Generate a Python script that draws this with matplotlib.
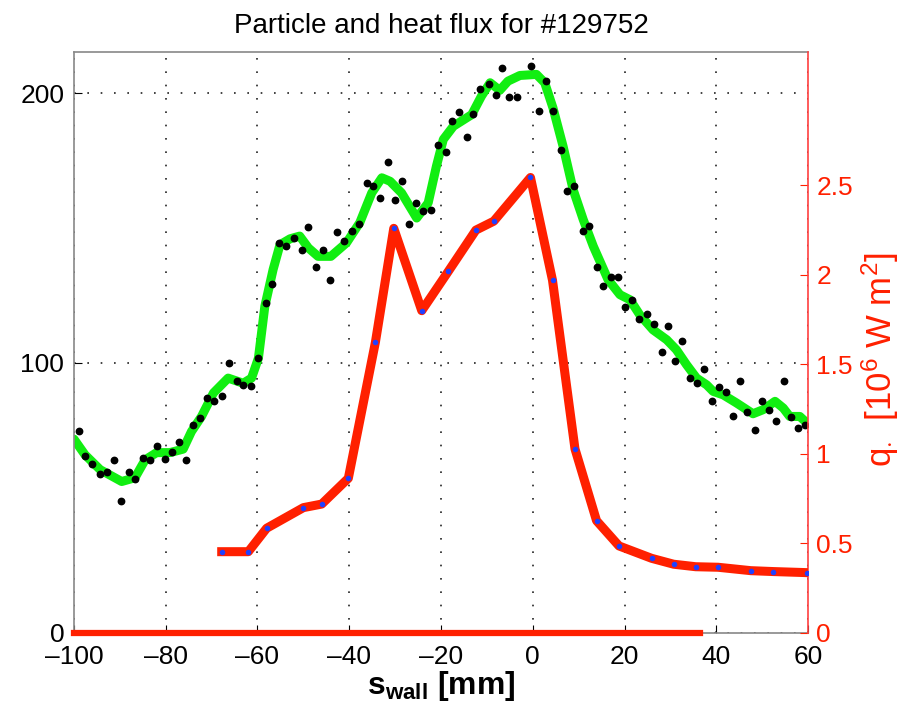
import matplotlib
matplotlib.use("Agg")
import matplotlib.pyplot as plt

plt.rcParams['font.family'] = ['Liberation Sans', 'DejaVu Sans']
plt.rcParams['mathtext.fontset'] = 'custom'
plt.rcParams['mathtext.rm'] = 'Liberation Sans'
plt.rcParams['mathtext.it'] = 'Liberation Sans'
plt.rcParams['mathtext.bf'] = 'Liberation Sans:bold'

# particle flux measurements (black dots, left axis)
dots_s = [-99.0, -97.6, -96.0, -94.3, -92.7, -91.3, -89.8, -88.0, -86.6, -84.9,
          -83.5, -81.8, -80.2, -78.7, -77.1, -75.6, -74.0, -72.5, -71.0, -69.5,
          -67.7, -66.2, -64.5, -63.1, -61.5, -59.8, -58.2, -56.8, -55.3, -53.7,
          -52.0, -50.4, -49.1, -47.3, -45.8, -44.2, -42.6, -41.1, -39.5, -37.8,
          -36.2, -34.8, -33.3, -31.5, -30.0, -28.6, -27.0, -25.5, -23.9, -22.2,
          -20.6, -19.0, -17.5, -16.0, -14.4, -13.0, -11.4, -9.6, -8.1, -6.7,
          -5.1, -3.4, -0.3, 1.3, 2.9, 4.4, 6.1, 7.5, 9.0, 10.9,
          12.2, 13.9, 15.3, 17.0, 18.5, 20.1, 21.7, 23.2, 24.8, 26.5,
          28.1, 29.5, 31.1, 32.6, 34.2, 35.8, 37.4, 39.0, 40.6, 42.2,
          43.7, 45.1, 46.8, 48.4, 50.0, 51.5, 53.1, 54.7, 56.2, 57.8, 59.4]
dots_flux = [74.9, 65.6, 62.7, 58.9, 59.8, 63.9, 48.7, 59.6, 57.1, 64.8,
             63.9, 69.4, 64.5, 67.2, 70.9, 63.9, 77.1, 79.6, 87.0, 86.0,
             87.6, 100.0, 93.2, 91.9, 91.6, 101.8, 122.4, 129.4, 144.5, 143.5,
             146.3, 142.0, 150.4, 135.5, 142.0, 130.6, 148.4, 145.3, 148.8, 151.5,
             166.5, 165.5, 161.1, 174.3, 160.5, 167.3, 151.5, 159.3, 156.2, 156.8,
             180.7, 178.1, 189.6, 192.9, 183.8, 192.4, 201.6, 203.5, 199.4, 209.1,
             198.4, 198.4, 209.9, 193.5, 204.4, 193.5, 178.8, 163.6, 165.5, 148.8,
             150.9, 135.6, 128.6, 131.9, 131.9, 120.6, 123.4, 116.3, 118.3, 114.4,
             104.1, 113.8, 100.9, 108.0, 94.4, 92.6, 97.9, 86.1, 91.1, 89.1,
             80.2, 93.4, 81.7, 75.3, 86.1, 82.7, 78.6, 93.5, 80.0, 75.9, 77.1]

# smoothed particle flux (green line, left axis)
smooth_s = [-100, -97.6, -94.3, -89.6, -86.7, -84.5, -82.0, -79.1, -76.2, -74.4,
            -72.2, -69.6, -66.4, -63.1, -61.3, -59.8, -58.4, -56.6, -55.1, -52.9,
            -50.8, -48.9, -46.8, -44.0, -40.6, -37.7, -35.1, -32.9, -31.1, -28.6,
            -25.3, -22.8, -21.0, -19.5, -17.3, -13.3, -11.2, -9.3, -7.2, -5.4,
            -2.8, 0.8, 2.6, 4.4, 6.6, 8.8, 11.0, 13.2, 16.4, 19.0,
            21.2, 23.3, 26.2, 29.2, 31.3, 33.5, 35.7, 37.9, 39.3, 41.5,
            44.4, 48.0, 50.2, 52.8, 54.6, 56.0, 58.2, 59.8]
smooth_flux = [71.8, 66.0, 60.5, 56.1, 57.5, 64.1, 66.8, 66.8, 68.1, 74.6,
               80.2, 88.9, 94.4, 92.5, 94.4, 101.8, 121.0, 134.6, 143.8, 146.0,
               147.0, 142.6, 139.5, 139.5, 144.5, 152.0, 163.0, 168.6, 167.3, 163.0,
               153.7, 159.3, 172.9, 182.8, 187.7, 192.0, 198.8, 203.8, 201.0, 204.4,
               206.5, 206.9, 203.8, 194.5, 180.3, 164.2, 153.1, 143.2, 130.9, 125.3,
               123.4, 117.9, 112.3, 108.6, 104.9, 99.4, 94.4, 91.9, 89.5, 88.2,
               85.2, 81.2, 82.7, 85.8, 83.3, 80.2, 80.2, 77.7]

# heat flux (red line with blue dots, right axis)
heat_s = [-67.8, -62.0, -58.0, -50.0, -46.0, -40.2, -34.3, -30.3, -24.2, -18.4,
          -12.4, -8.5, -0.5, 4.3, 9.2, 13.9, 18.8, 25.9, 30.7, 35.5,
          40.4, 47.5, 52.4, 59.7]
heat_q = [0.454, 0.454, 0.585, 0.70, 0.72, 0.864, 1.624, 2.26, 1.80, 2.02,
          2.25, 2.30, 2.544, 1.97, 1.028, 0.627, 0.486, 0.417, 0.384, 0.370,
          0.367, 0.348, 0.343, 0.337]

# zero heat-flux baseline
zero_s = [-100, 36.4]
zero_q = [0, 0]

x_ticks = [-100, -80, -60, -40, -20, 0, 20, 40, 60]
left_ticks = [0, 100, 200]
right_ticks = [0, 0.5, 1, 1.5, 2, 2.5]
right_ticklabels = ['0', '0.5', '1', '1.5', '2', '2.5']

fig = plt.figure(figsize=(9.11, 7.12), dpi=100)
ax = fig.add_axes([0.0812, 0.111, 0.8058, 0.816])
ax2 = ax.twinx()

ax.set_zorder(1)
ax2.set_zorder(2)
ax2.patch.set_visible(False)

ax.plot(smooth_s, smooth_flux, color='#11ee11', lw=6.5, solid_capstyle='round',
        solid_joinstyle='round', zorder=2)
ax.plot(dots_s, dots_flux, 'o', color='black', ms=4.6, zorder=3)

ax2.plot(zero_s, zero_q, color='#ff2000', lw=4.5, zorder=2, clip_on=False)
ax2.plot(heat_s, heat_q, color='#ff2000', lw=6.5, solid_joinstyle='round',
         zorder=3)
ax2.plot(heat_s, heat_q, 'o', color='#2040ff', ms=4.0, mew=0, zorder=4)

ax.set_xlim(-100, 60)
ax.set_ylim(0, 215.2)
ax2.set_ylim(0, 3.245)

ax.set_xticks(x_ticks)
ax.set_xticklabels([('\u2013' + str(abs(v))) if v < 0 else str(v) for v in x_ticks])
ax.set_yticks(left_ticks)
ax2.set_yticks(right_ticks)
ax2.set_yticklabels(right_ticklabels)

ax.grid(True, color='#222222', linestyle=(0, (1, 7)), lw=1.2)

ax.tick_params(axis='both', direction='in', length=6, labelsize=19, pad=7,
               colors='black', top=False)
ax.tick_params(axis='x', pad=9)
ax2.tick_params(axis='y', direction='in', length=6, labelsize=19, pad=6,
                colors='#ff2000')

for name in ['left', 'top', 'bottom']:
    ax.spines[name].set_color('#888888')
    ax.spines[name].set_linewidth(1.2)
for name in ['left', 'top', 'bottom']:
    ax2.spines[name].set_visible(False)
ax2.spines['right'].set_color('#ff4040')
ax2.spines['right'].set_linewidth(1.2)
ax.spines['right'].set_visible(False)

ax.set_title('Particle and heat flux for #129752', fontsize=20, pad=14)
ax.set_xlabel(r'$\mathbf{s}_{\mathbf{wall}}$ [mm]', fontsize=23,
              fontweight='bold', labelpad=0)
ax2.set_ylabel(r'q$_{\cdot}$  [10$^{6}$ W m$^{2}$]', fontsize=25, color='#ff2000')
ax2.yaxis.set_label_coords(1.07, 0.47)

fig.savefig('out.png', dpi=100)
